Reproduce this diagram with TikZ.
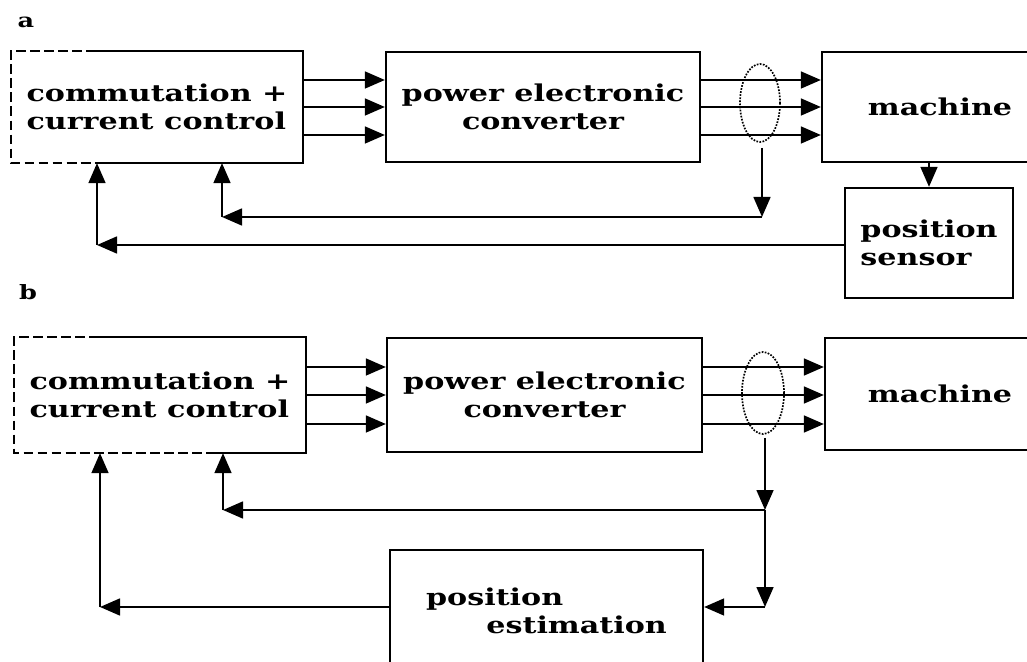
\documentclass[tikz,border=0pt]{standalone}
\usepackage{fontspec}
\setmainfont{DejaVu Serif}[FakeStretch=1.3]
\usetikzlibrary{arrows.meta, positioning, calc}
\tikzset{
    blk/.style={rectangle, draw, line width=1.6pt, inner sep=0pt, align=center, font=\fontsize{16.5}{20}\selectfont\bfseries},
    arr/.style={line width=1.6pt, -{Triangle[length=5mm, width=4.2mm]}},
    brk/.style={line width=1.6pt, dash pattern=on 7pt off 3pt},
    ring/.style={densely dotted, line width=1.2pt},
}

\begin{document}
\begin{tikzpicture}[x=0.25mm, y=-0.25mm]
    \useasboundingbox (0,0) rectangle (1027,662);
    \clip (0,0) rectangle (1027,662);

    % Labels
    \node[font=\fontsize{14}{16}\selectfont\bfseries] (la) at (26,22) {a};
    \node[font=\fontsize{14}{16}\selectfont\bfseries] (lb) at (28,292) {b};

    % ---- a: with position sensor ----
    \node[blk, draw=none, align=left, minimum width=72.5mm, minimum height=27.5mm] (cc1) at (157,107) {commutation +\\current control};
    \draw[brk] ($(cc1.north west)+(85,0)$) -- (cc1.north west) -- (cc1.south west) -- ($(cc1.south west)+(85,0)$);
    \draw[line width=1.6pt] ($(cc1.north west)+(85,0)$) -| (cc1.south east) -- ($(cc1.south west)+(85,0)$);

    \node[blk, minimum width=78.5mm, minimum height=27.5mm] (pec1) at (543,107) {power electronic\\converter};
    \node[blk, minimum width=59mm, minimum height=27.5mm] (mach1) at (940,107) {machine};
    \node[blk, align=left, minimum width=42mm, minimum height=27.5mm] (sens) at (929,243) {position\\sensor};

    % Phase lines
    \foreach \dy in {-27,0,28} {
        \draw[arr] ($(cc1.east)+(0,\dy)$) -- ($(pec1.west)+(0,\dy)$);
        \draw[arr] ($(pec1.east)+(0,\dy)$) -- ($(mach1.west)+(0,\dy)$);
    }
    \draw[ring] (760,103) ellipse [x radius=20, y radius=39];

    % Current feedback
    \coordinate (tap1) at (762,148);
    \coordinate (j1) at (762,217);
    \coordinate (k1) at (222,217);
    \draw[arr] (tap1) -- (j1);
    \draw[arr] (j1) -- (k1);
    \draw[arr] (k1) -- (k1 |- cc1.south);

    % Position feedback
    \draw[arr] (sens.north |- mach1.south) -- (sens.north);
    \coordinate (k2) at (97,245);
    \draw[arr] (sens.west |- k2) -- (k2);
    \draw[arr] (k2) -- (k2 |- cc1.south);

    % ---- b: with position estimation ----
    \node[blk, draw=none, align=left, minimum width=72.5mm, minimum height=28.5mm] (cc2) at (160,395) {commutation +\\current control};
    \draw[brk] ($(cc2.north west)+(85,0)$) -- (cc2.north west) -- (cc2.south west) -- ($(cc2.south west)+(200,0)$);
    \draw[line width=1.6pt] ($(cc2.north west)+(85,0)$) -| (cc2.south east) -- ($(cc2.south west)+(200,0)$);

    \node[blk, minimum width=78.75mm, minimum height=28.5mm] (pec2) at (544.5,395) {power electronic\\converter};
    \node[blk, minimum width=57.5mm, minimum height=28mm] (mach2) at (940,394) {machine};
    \node[blk, align=left, minimum width=78.25mm, minimum height=30.5mm] (pe) at (546.5,611) {position\\\hspace*{2.6em}estimation};

    % Phase lines
    \foreach \dy in {-28,0,29} {
        \draw[arr] ($(cc2.east)+(0,\dy)$) -- ($(pec2.west)+(0,\dy)$);
        \draw[arr] ($(pec2.east)+(0,\dy)$) -- ($(mach2.west)+(0,\dy+1)$);
    }
    \draw[ring] (763,393) ellipse [x radius=21, y radius=41];

    % Current feedback
    \coordinate (tap2) at (765,438);
    \coordinate (j2) at (765,510);
    \coordinate (k3) at (223,510);
    \coordinate (j3) at (765,607);
    \coordinate (k4) at (100,607);
    \draw[arr] (tap2) -- (j2);
    \draw[arr] (j2) -- (k3);
    \draw[arr] (k3) -- (k3 |- cc2.south);
    \draw[arr] (j2) -- (j3);
    \draw[arr] (j3) -- (j3 -| pe.east);

    % Estimated position
    \draw[arr] (pe.west |- k4) -- (k4);
    \draw[arr] (k4) -- (k4 |- cc2.south);

\end{tikzpicture}
\end{document}
